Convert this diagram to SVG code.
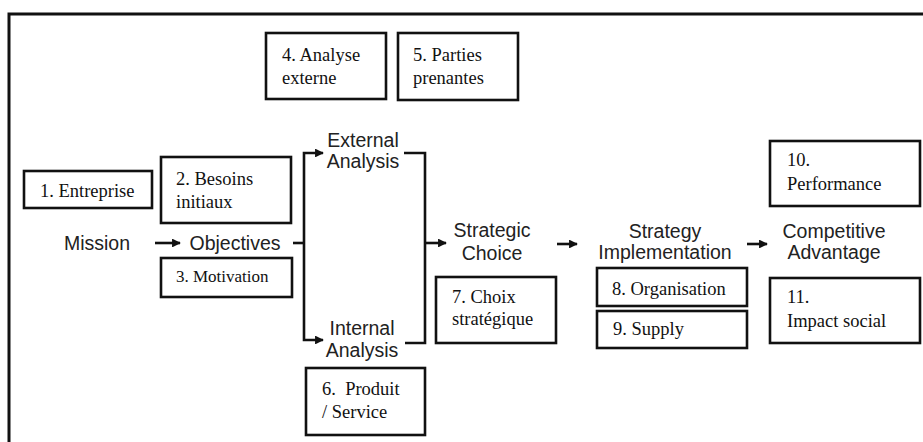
<svg xmlns="http://www.w3.org/2000/svg" width="923" height="442" viewBox="0 0 923 442">
  <style>
    .box { fill: #ffffff; stroke: #111111; stroke-width: 2.6; }
    .frame { fill: none; stroke: #111111; stroke-width: 3; }
    .wire { fill: none; stroke: #111111; stroke-width: 2.6; }
    .stage { font-family: "Liberation Sans", Arial, sans-serif; font-size: 19.5px; fill: #222222; text-anchor: middle; }
    .note { font-family: "Liberation Serif", "Times New Roman", serif; font-size: 18.5px; fill: #111111; }
  </style>
  <defs>
    <marker id="head" viewBox="0 0 10 10" refX="9" refY="5" markerWidth="3.4" markerHeight="3.4" orient="auto" markerUnits="strokeWidth">
      <path d="M0,0 L10,5 L0,10 Z" fill="#111111"/>
    </marker>
  </defs>

  <rect width="923" height="442" fill="#ffffff"/>

  <!-- outer frame: left and top edges only -->
  <path class="frame" d="M9,442 V14 H923"/>

  <!-- stage labels -->
  <g id="mission"><text class="stage" x="97" y="250">Mission</text></g>
  <g id="objectives"><text class="stage" x="235" y="250">Objectives</text></g>
  <g id="external-analysis">
    <text class="stage" x="363" y="147">External</text>
    <text class="stage" x="363" y="168">Analysis</text>
  </g>
  <g id="internal-analysis">
    <text class="stage" x="362" y="335">Internal</text>
    <text class="stage" x="362" y="357">Analysis</text>
  </g>
  <g id="strategic-choice">
    <text class="stage" x="492" y="237">Strategic</text>
    <text class="stage" x="492" y="260">Choice</text>
  </g>
  <g id="strategy-implementation">
    <text class="stage" x="665" y="238">Strategy</text>
    <text class="stage" x="665" y="259">Implementation</text>
  </g>
  <g id="competitive-advantage">
    <text class="stage" x="834" y="238">Competitive</text>
    <text class="stage" x="834" y="259">Advantage</text>
  </g>

  <!-- numbered boxes -->
  <g id="box1">
    <rect class="box" x="24" y="171" width="128" height="37"/>
    <text class="note" x="40" y="197">1. Entreprise</text>
  </g>
  <g id="box2">
    <rect class="box" x="161" y="157" width="130" height="66"/>
    <text class="note" x="176" y="185">2. Besoins</text>
    <text class="note" x="176" y="208">initiaux</text>
  </g>
  <g id="box3">
    <rect class="box" x="161" y="258" width="131" height="39"/>
    <text class="note" x="176" y="282" style="font-size:17px">3. Motivation</text>
  </g>
  <g id="box4">
    <rect class="box" x="266" y="33" width="120" height="66"/>
    <text class="note" x="282" y="61">4. Analyse</text>
    <text class="note" x="282" y="84">externe</text>
  </g>
  <g id="box5">
    <rect class="box" x="398" y="33" width="120" height="67"/>
    <text class="note" x="413" y="61">5. Parties</text>
    <text class="note" x="413" y="84">prenantes</text>
  </g>
  <g id="box6">
    <rect class="box" x="306" y="368" width="119" height="67"/>
    <text class="note" x="322" y="395">6.&#160; Produit</text>
    <text class="note" x="322" y="418">/ Service</text>
  </g>
  <g id="box7">
    <rect class="box" x="436" y="277" width="120" height="66"/>
    <text class="note" x="452" y="303">7. Choix</text>
    <text class="note" x="452" y="325">stratégique</text>
  </g>
  <g id="box8">
    <rect class="box" x="597" y="268" width="150" height="38"/>
    <text class="note" x="612" y="295">8. Organisation</text>
  </g>
  <g id="box9">
    <rect class="box" x="597" y="311" width="150" height="37"/>
    <text class="note" x="613" y="335">9. Supply</text>
  </g>
  <g id="box10">
    <rect class="box" x="770" y="141" width="150" height="65"/>
    <text class="note" x="787" y="166">10.</text>
    <text class="note" x="787" y="190">Performance</text>
  </g>
  <g id="box11">
    <rect class="box" x="770" y="278" width="150" height="65"/>
    <text class="note" x="787" y="303">11.</text>
    <text class="note" x="787" y="327">Impact social</text>
  </g>

  <!-- connectors -->
  <g id="connectors">
    <path class="wire" d="M155,243 H180" marker-end="url(#head)"/>
    <path class="wire" d="M293,243 H304"/>
    <path class="wire" d="M304,243 V153 H323" marker-end="url(#head)"/>
    <path class="wire" d="M304,243 V340 H323" marker-end="url(#head)"/>
    <path class="wire" d="M404,153 H425 V343 H405"/>
    <path class="wire" d="M425,243 H446" marker-end="url(#head)"/>
    <path class="wire" d="M557,244 H577" marker-end="url(#head)"/>
    <path class="wire" d="M747,244 H767" marker-end="url(#head)"/>
  </g>
</svg>
